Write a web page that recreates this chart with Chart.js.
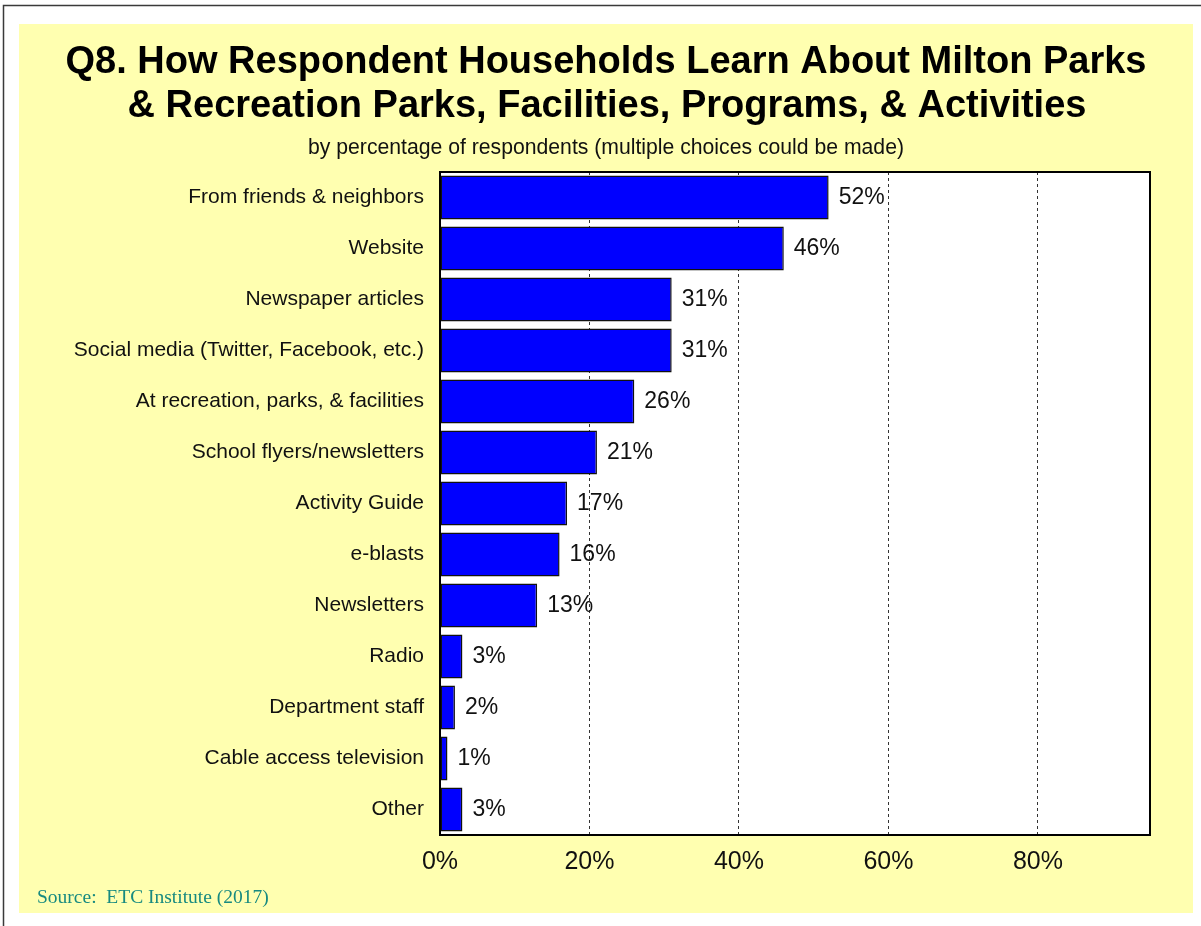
<!DOCTYPE html>
<html>
<head>
<meta charset="utf-8">
<title>Q8. How Respondent Households Learn About Milton Parks &amp; Recreation</title>
<script src="https://cdn.jsdelivr.net/npm/chart.js@4"></script>
<style>
  html, body { margin: 0; padding: 0; background: #ffffff; }
  #chart { display: block; }
</style>
</head>
<body>
<canvas id="chart" width="1201" height="926"></canvas>
<script>
// Survey responses, percentage of respondents per information source
const categories = [
  'From friends & neighbors',
  'Website',
  'Newspaper articles',
  'Social media (Twitter, Facebook, etc.)',
  'At recreation, parks, & facilities',
  'School flyers/newsletters',
  'Activity Guide',
  'e-blasts',
  'Newsletters',
  'Radio',
  'Department staff',
  'Cable access television',
  'Other'
];
const percentages = [52, 46, 31, 31, 26, 21, 17, 16, 13, 3, 2, 1, 3];
const tickValues = [0, 20, 40, 60, 80];

const titleLines = [
  'Q8. How Respondent Households Learn About Milton Parks',
  '& Recreation Parks, Facilities, Programs, & Activities'
];
const subtitleText = 'by percentage of respondents (multiple choices could be made)';
const sourceText = 'Source:  ETC Institute (2017)';

const PANEL = '#ffffb0';
const SANS = '"Liberation Sans", Arial, Helvetica, sans-serif';
const SERIF = '"Liberation Serif", "Times New Roman", serif';

// Page frame, yellow panel and white plotting area
const backdrop = {
  id: 'backdrop',
  beforeDraw(chart) {
    const { ctx, chartArea: a } = chart;
    ctx.save();
    ctx.fillStyle = '#ffffff';
    ctx.fillRect(0, 0, chart.width, chart.height);
    ctx.fillStyle = PANEL;
    ctx.fillRect(19, 24, 1174, 889);
    ctx.strokeStyle = '#3a3a3a';
    ctx.lineWidth = 1.5;
    ctx.beginPath();
    ctx.moveTo(3.5, chart.height);
    ctx.lineTo(3.5, 5.5);
    ctx.lineTo(chart.width, 5.5);
    ctx.stroke();
    ctx.fillStyle = '#ffffff';
    ctx.fillRect(a.left, a.top, a.right - a.left, a.bottom - a.top);
    ctx.restore();
  }
};

// Heading, subheading and source note
const captions = {
  id: 'captions',
  afterDraw(chart) {
    const ctx = chart.ctx;
    ctx.save();
    ctx.fillStyle = '#000000';
    ctx.textAlign = 'center';
    ctx.textBaseline = 'alphabetic';
    ctx.font = 'bold 38px ' + SANS;
    ctx.fillText(titleLines[0], 606, 73);
    ctx.fillText(titleLines[1], 607, 117);
    ctx.font = '21.2px ' + SANS;
    ctx.fillStyle = '#111111';
    ctx.fillText(subtitleText, 606, 154);
    ctx.textAlign = 'left';
    ctx.font = '19.5px ' + SERIF;
    ctx.fillStyle = '#178a80';
    ctx.fillText(sourceText, 37, 903);
    ctx.restore();
  }
};

// Frame around the plotting area and value labels beside each bar
const plotFrame = {
  id: 'plotFrame',
  afterDatasetsDraw(chart) {
    const { ctx, chartArea: a } = chart;
    ctx.save();
    ctx.strokeStyle = '#000000';
    ctx.lineWidth = 2;
    ctx.strokeRect(a.left, a.top, a.right - a.left, a.bottom - a.top);

    const meta = chart.getDatasetMeta(0);
    const values = chart.data.datasets[0].data;
    ctx.fillStyle = '#111111';
    ctx.font = '23px ' + SANS;
    ctx.textAlign = 'left';
    ctx.textBaseline = 'middle';
    meta.data.forEach((bar, i) => {
      ctx.fillText(values[i] + '%', bar.x + 10, bar.y);
    });
    ctx.restore();
  }
};

new Chart(document.getElementById('chart'), {
  type: 'bar',
  data: {
    labels: categories,
    datasets: [{
      data: percentages,
      backgroundColor: '#0000ff',
      borderColor: '#111111',
      borderWidth: 1.5,
      borderSkipped: false,
      categoryPercentage: 1,
      barPercentage: 0.86
    }]
  },
  options: {
    indexAxis: 'y',
    responsive: false,
    animation: false,
    devicePixelRatio: 1,
    layout: { padding: { top: 172, left: 0, right: 51, bottom: 31 } },
    plugins: {
      legend: { display: false },
      title: { display: false },
      tooltip: { enabled: false }
    },
    scales: {
      x: {
        type: 'linear',
        min: 0,
        max: 95,
        afterFit(scale) { scale.height = 60; },
        afterBuildTicks(scale) {
          scale.ticks = tickValues.map(v => ({ value: v }));
        },
        ticks: {
          callback: v => v + '%',
          color: '#111111',
          font: { family: SANS, size: 25 },
          padding: 12,
          maxRotation: 0
        },
        grid: {
          drawTicks: false,
          lineWidth: 1,
          color: ctx => (ctx.tick && ctx.tick.value === 0) ? 'rgba(0,0,0,0)' : '#333333'
        },
        border: { display: false, dash: [3, 3] }
      },
      y: {
        type: 'category',
        afterFit(scale) { scale.width = 440; },
        ticks: {
          color: '#111111',
          font: { family: SANS, size: 21 },
          padding: 16,
          autoSkip: false
        },
        grid: { display: false, drawTicks: false },
        border: { display: false }
      }
    }
  },
  plugins: [backdrop, captions, plotFrame]
});
</script>
</body>
</html>
